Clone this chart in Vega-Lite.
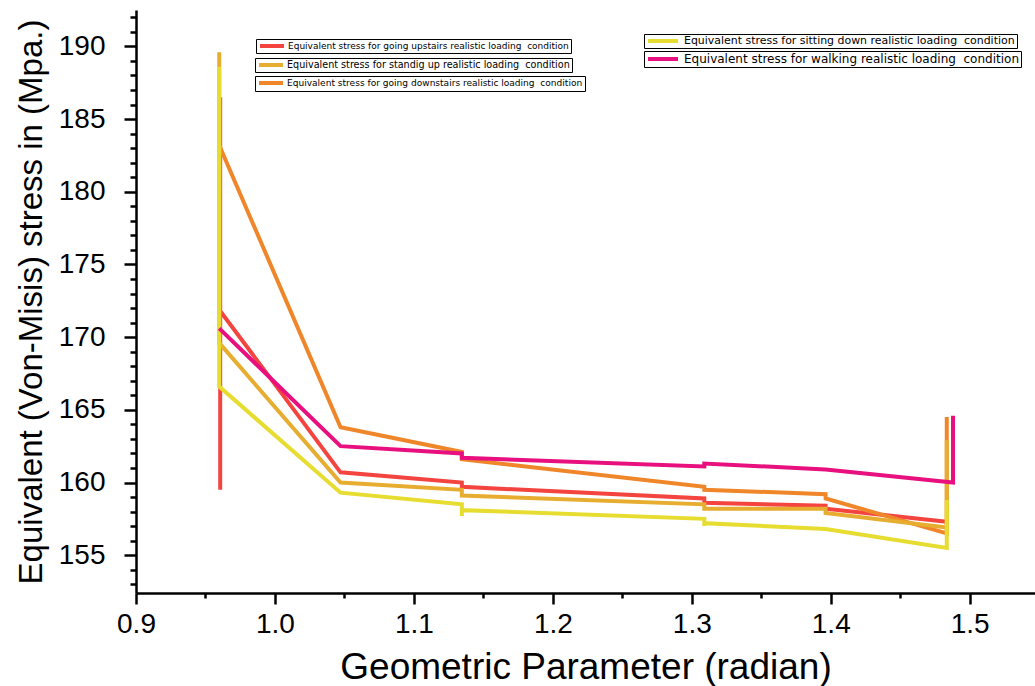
{
  "$schema": "https://vega.github.io/schema/vega-lite/v6.json",
  "width": 899,
  "height": 583,
  "autosize": {"type": "none"},
  "padding": {"left": 136, "top": 10, "right": 0, "bottom": 93},
  "background": "white",
  "config": {
    "view": {"stroke": null},
    "font": "Liberation Sans",
    "axis": {
      "grid": false,
      "domainColor": "black",
      "tickColor": "black",
      "labelColor": "black",
      "titleColor": "black",
      "domainWidth": 2.5,
      "tickWidth": 2.5,
      "labelFont": "Liberation Sans",
      "titleFont": "Liberation Sans",
      "titleFontWeight": "normal"
    },
    "legend": {
      "orient": "none",
      "title": null,
      "strokeColor": "black",
      "fillColor": "white",
      "padding": 2,
      "symbolType": "stroke",
      "symbolStrokeWidth": 4,
      "symbolOpacity": 1,
      "clipHeight": 10,
      "labelLimit": 600,
      "labelFont": "DejaVu Sans",
      "labelColor": "black"
    }
  },
  "data": {
    "values": [
      {"series": "Equivalent stress for going upstairs realistic loading \u00a0condition", "i": 1, "x": 0.9606, "y": 186.5},
      {"series": "Equivalent stress for going upstairs realistic loading \u00a0condition", "i": 2, "x": 0.9606, "y": 159.5},
      {"series": "Equivalent stress for going upstairs realistic loading \u00a0condition", "i": 3, "x": 0.9606, "y": 171.8},
      {"series": "Equivalent stress for going upstairs realistic loading \u00a0condition", "i": 4, "x": 1.0472, "y": 160.7},
      {"series": "Equivalent stress for going upstairs realistic loading \u00a0condition", "i": 5, "x": 1.1345, "y": 160.0},
      {"series": "Equivalent stress for going upstairs realistic loading \u00a0condition", "i": 6, "x": 1.1345, "y": 159.7},
      {"series": "Equivalent stress for going upstairs realistic loading \u00a0condition", "i": 7, "x": 1.309, "y": 158.9},
      {"series": "Equivalent stress for going upstairs realistic loading \u00a0condition", "i": 8, "x": 1.309, "y": 158.6},
      {"series": "Equivalent stress for going upstairs realistic loading \u00a0condition", "i": 9, "x": 1.3963, "y": 158.4},
      {"series": "Equivalent stress for going upstairs realistic loading \u00a0condition", "i": 10, "x": 1.3963, "y": 158.2},
      {"series": "Equivalent stress for going upstairs realistic loading \u00a0condition", "i": 11, "x": 1.4835, "y": 157.3},

      {"series": "Equivalent stress for going downstairs realistic loading \u00a0condition", "i": 1, "x": 0.9599, "y": 183.2},
      {"series": "Equivalent stress for going downstairs realistic loading \u00a0condition", "i": 2, "x": 1.0472, "y": 163.8},
      {"series": "Equivalent stress for going downstairs realistic loading \u00a0condition", "i": 3, "x": 1.1345, "y": 162.1},
      {"series": "Equivalent stress for going downstairs realistic loading \u00a0condition", "i": 4, "x": 1.1345, "y": 161.6},
      {"series": "Equivalent stress for going downstairs realistic loading \u00a0condition", "i": 5, "x": 1.309, "y": 159.7},
      {"series": "Equivalent stress for going downstairs realistic loading \u00a0condition", "i": 6, "x": 1.309, "y": 159.5},
      {"series": "Equivalent stress for going downstairs realistic loading \u00a0condition", "i": 7, "x": 1.3963, "y": 159.2},
      {"series": "Equivalent stress for going downstairs realistic loading \u00a0condition", "i": 8, "x": 1.3963, "y": 158.9},
      {"series": "Equivalent stress for going downstairs realistic loading \u00a0condition", "i": 9, "x": 1.4835, "y": 156.5},
      {"series": "Equivalent stress for going downstairs realistic loading \u00a0condition", "i": 10, "x": 1.4835, "y": 164.5},

      {"series": "Equivalent stress for standig up realistic loading \u00a0condition", "i": 1, "x": 0.9599, "y": 189.6},
      {"series": "Equivalent stress for standig up realistic loading \u00a0condition", "i": 2, "x": 0.9599, "y": 169.6},
      {"series": "Equivalent stress for standig up realistic loading \u00a0condition", "i": 3, "x": 1.0472, "y": 160.0},
      {"series": "Equivalent stress for standig up realistic loading \u00a0condition", "i": 4, "x": 1.1345, "y": 159.5},
      {"series": "Equivalent stress for standig up realistic loading \u00a0condition", "i": 5, "x": 1.1345, "y": 159.1},
      {"series": "Equivalent stress for standig up realistic loading \u00a0condition", "i": 6, "x": 1.309, "y": 158.5},
      {"series": "Equivalent stress for standig up realistic loading \u00a0condition", "i": 7, "x": 1.309, "y": 158.2},
      {"series": "Equivalent stress for standig up realistic loading \u00a0condition", "i": 8, "x": 1.3963, "y": 158.2},
      {"series": "Equivalent stress for standig up realistic loading \u00a0condition", "i": 9, "x": 1.3963, "y": 157.9},
      {"series": "Equivalent stress for standig up realistic loading \u00a0condition", "i": 10, "x": 1.4835, "y": 156.9},
      {"series": "Equivalent stress for standig up realistic loading \u00a0condition", "i": 11, "x": 1.4835, "y": 162.9},

      {"series": "Equivalent stress for sitting down realistic loading \u00a0condition", "i": 1, "x": 0.9599, "y": 188.6},
      {"series": "Equivalent stress for sitting down realistic loading \u00a0condition", "i": 2, "x": 0.9599, "y": 166.6},
      {"series": "Equivalent stress for sitting down realistic loading \u00a0condition", "i": 3, "x": 1.0472, "y": 159.3},
      {"series": "Equivalent stress for sitting down realistic loading \u00a0condition", "i": 4, "x": 1.1345, "y": 158.5},
      {"series": "Equivalent stress for sitting down realistic loading \u00a0condition", "i": 5, "x": 1.1345, "y": 157.7},
      {"series": "Equivalent stress for sitting down realistic loading \u00a0condition", "i": 6, "x": 1.1345, "y": 158.1},
      {"series": "Equivalent stress for sitting down realistic loading \u00a0condition", "i": 7, "x": 1.309, "y": 157.5},
      {"series": "Equivalent stress for sitting down realistic loading \u00a0condition", "i": 8, "x": 1.309, "y": 157.0},
      {"series": "Equivalent stress for sitting down realistic loading \u00a0condition", "i": 9, "x": 1.309, "y": 157.2},
      {"series": "Equivalent stress for sitting down realistic loading \u00a0condition", "i": 10, "x": 1.3963, "y": 156.8},
      {"series": "Equivalent stress for sitting down realistic loading \u00a0condition", "i": 11, "x": 1.4835, "y": 155.5},
      {"series": "Equivalent stress for sitting down realistic loading \u00a0condition", "i": 12, "x": 1.4835, "y": 158.8},

      {"series": "Equivalent stress for walking realistic loading \u00a0condition", "i": 1, "x": 0.9599, "y": 170.6},
      {"series": "Equivalent stress for walking realistic loading \u00a0condition", "i": 2, "x": 1.0472, "y": 162.5},
      {"series": "Equivalent stress for walking realistic loading \u00a0condition", "i": 3, "x": 1.1345, "y": 162.0},
      {"series": "Equivalent stress for walking realistic loading \u00a0condition", "i": 4, "x": 1.1345, "y": 161.7},
      {"series": "Equivalent stress for walking realistic loading \u00a0condition", "i": 5, "x": 1.309, "y": 161.1},
      {"series": "Equivalent stress for walking realistic loading \u00a0condition", "i": 6, "x": 1.309, "y": 161.3},
      {"series": "Equivalent stress for walking realistic loading \u00a0condition", "i": 7, "x": 1.3963, "y": 160.9},
      {"series": "Equivalent stress for walking realistic loading \u00a0condition", "i": 8, "x": 1.488, "y": 160.0},
      {"series": "Equivalent stress for walking realistic loading \u00a0condition", "i": 9, "x": 1.488, "y": 164.6}
    ]
  },
  "encoding": {
    "x": {
      "field": "x",
      "type": "quantitative",
      "scale": {"domain": [0.9, 1.547], "nice": false, "zero": false},
      "axis": {
        "title": "Geometric Parameter (radian)",
        "titleFontSize": 37,
        "titlePadding": 11,
        "labelFontSize": 28,
        "labelPadding": 6,
        "values": [0.9, 0.95, 1.0, 1.05, 1.1, 1.15, 1.2, 1.25, 1.3, 1.35, 1.4, 1.45, 1.5],
        "labelExpr": "round(datum.value*20) % 2 === 0 ? format(datum.value, '.1f') : ''",
        "tickSize": {"condition": {"test": "round(datum.value*20) % 2 === 0", "value": 11}, "value": 5},
        "labelFlush": false,
        "labelOverlap": false
      }
    },
    "y": {
      "field": "y",
      "type": "quantitative",
      "scale": {"domain": [152.4, 192.5], "nice": false, "zero": false},
      "axis": {
        "title": "Equivalent (Von-Misis) stress in (Mpa.)",
        "titleFontSize": 33,
        "titlePadding": 10,
        "labelFontSize": 28,
        "labelPadding": 19,
        "values": [153, 154, 155, 156, 157, 158, 159, 160, 161, 162, 163, 164, 165, 166, 167, 168, 169, 170, 171, 172, 173, 174, 175, 176, 177, 178, 179, 180, 181, 182, 183, 184, 185, 186, 187, 188, 189, 190, 191, 192],
        "labelExpr": "datum.value % 5 === 0 ? format(datum.value, 'd') : ''",
        "tickSize": {"condition": {"test": "datum.value % 5 === 0", "value": 12}, "value": 6},
        "labelOverlap": false,
        "labelFlush": false
      }
    },
    "order": {"field": "i", "type": "quantitative"}
  },
  "layer": [
    {
      "transform": [{"filter": "datum.series === 'Equivalent stress for going upstairs realistic loading \u00a0condition'"}],
      "mark": {"type": "line", "strokeWidth": 4},
      "encoding": {
        "color": {
          "field": "series", "type": "nominal",
          "scale": {"domain": ["Equivalent stress for going upstairs realistic loading \u00a0condition"], "range": ["#F4443F"]},
          "legend": {"legendX": 120, "legendY": 29, "labelFontSize": 9.0, "symbolSize": 576, "labelOffset": 2}
        }
      }
    },
    {
      "transform": [{"filter": "datum.series === 'Equivalent stress for going downstairs realistic loading \u00a0condition'"}],
      "mark": {"type": "line", "strokeWidth": 4},
      "encoding": {
        "color": {
          "field": "series", "type": "nominal",
          "scale": {"domain": ["Equivalent stress for going downstairs realistic loading \u00a0condition"], "range": ["#EF872A"]},
          "legend": {"legendX": 119, "legendY": 66, "labelFontSize": 9.05, "symbolSize": 576, "labelOffset": 2}
        }
      }
    },
    {
      "transform": [{"filter": "datum.series === 'Equivalent stress for standig up realistic loading \u00a0condition'"}],
      "mark": {"type": "line", "strokeWidth": 4},
      "encoding": {
        "color": {
          "field": "series", "type": "nominal",
          "scale": {"domain": ["Equivalent stress for standig up realistic loading \u00a0condition"], "range": ["#E7AD30"]},
          "legend": {"legendX": 119, "legendY": 48, "labelFontSize": 9.65, "symbolSize": 576, "labelOffset": 2}
        }
      }
    },
    {
      "transform": [{"filter": "datum.series === 'Equivalent stress for sitting down realistic loading \u00a0condition'"}],
      "mark": {"type": "line", "strokeWidth": 4},
      "encoding": {
        "color": {
          "field": "series", "type": "nominal",
          "scale": {"domain": ["Equivalent stress for sitting down realistic loading \u00a0condition"], "range": ["#E7DC30"]},
          "legend": {"legendX": 508, "legendY": 24, "labelFontSize": 10.95, "symbolSize": 900, "labelOffset": 4}
        }
      }
    },
    {
      "transform": [{"filter": "datum.series === 'Equivalent stress for walking realistic loading \u00a0condition'"}],
      "mark": {"type": "line", "strokeWidth": 4},
      "encoding": {
        "color": {
          "field": "series", "type": "nominal",
          "scale": {"domain": ["Equivalent stress for walking realistic loading \u00a0condition"], "range": ["#E8107E"]},
          "legend": {"legendX": 508, "legendY": 41, "labelFontSize": 12.0, "symbolSize": 900, "labelOffset": 4, "clipHeight": 12}
        }
      }
    }
  ],
  "resolve": {"scale": {"color": "independent"}, "legend": {"color": "independent"}}
}
